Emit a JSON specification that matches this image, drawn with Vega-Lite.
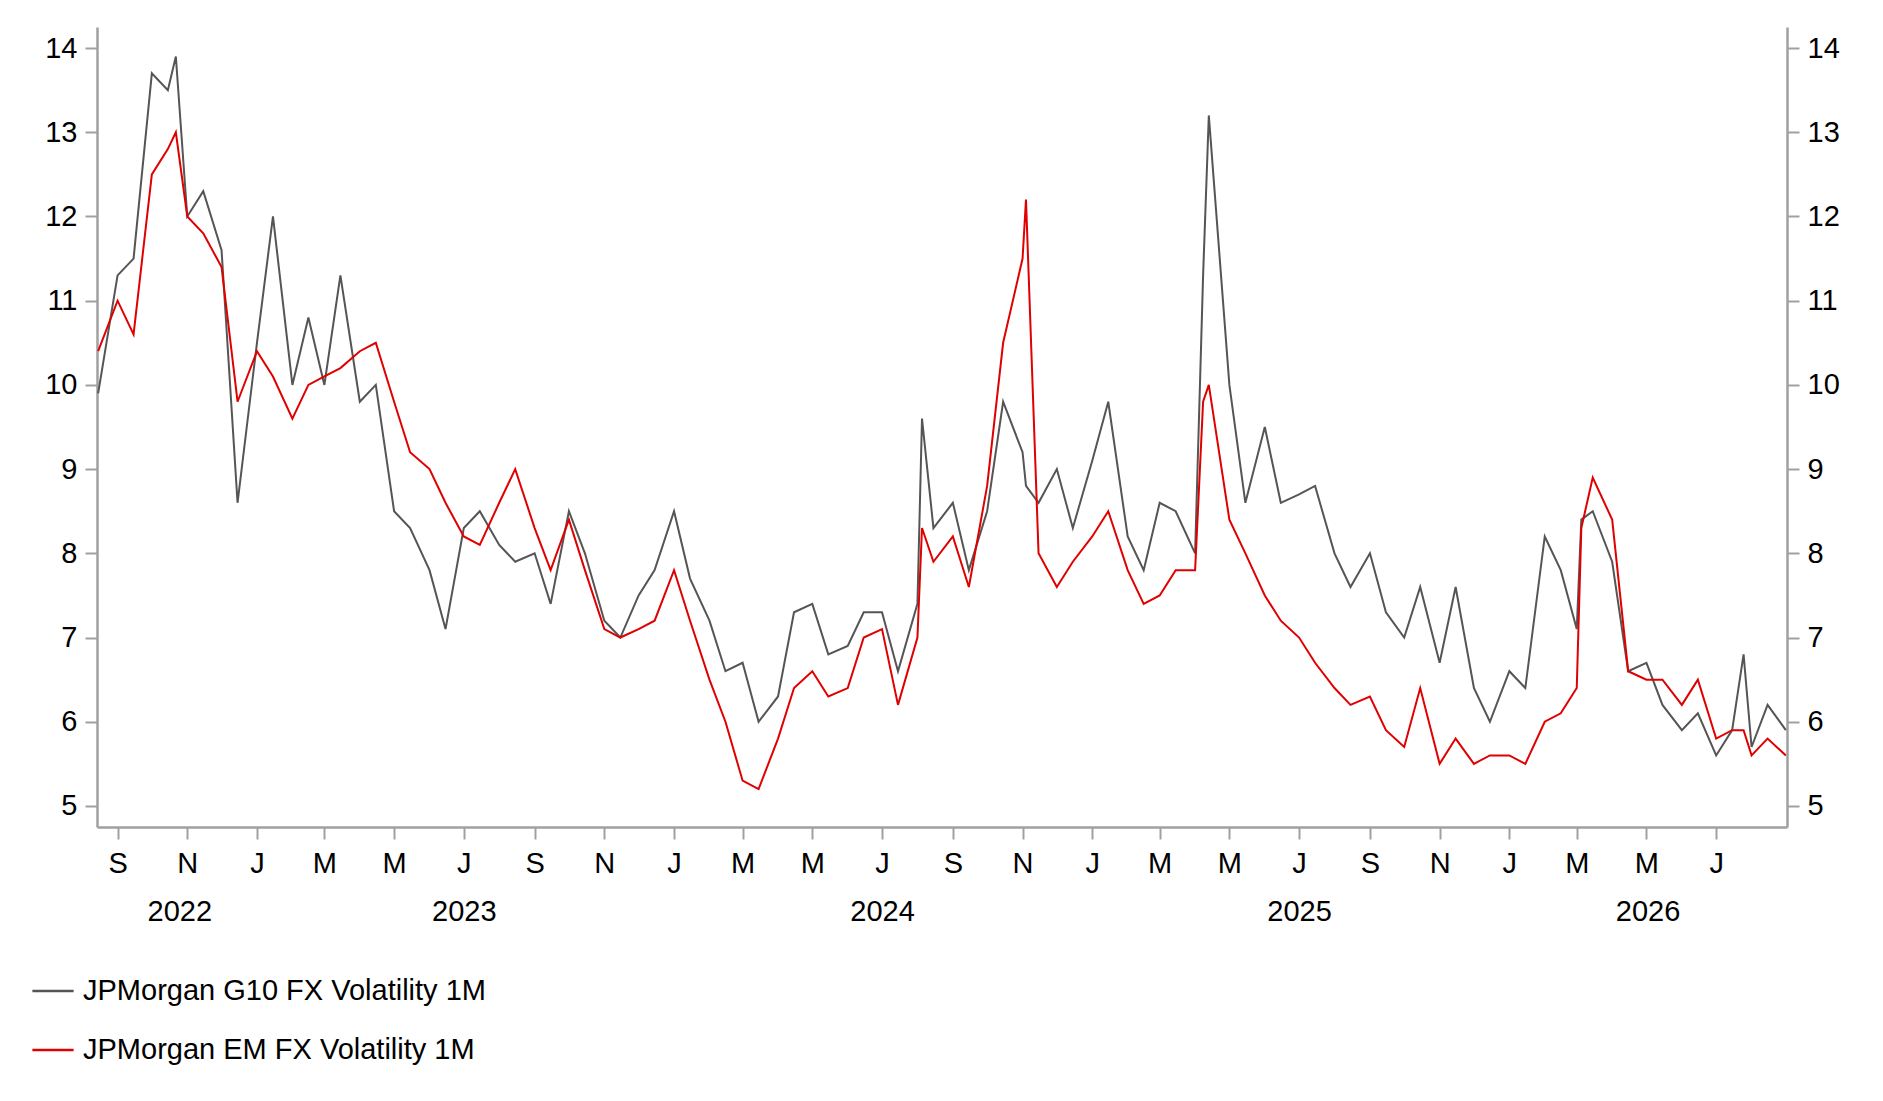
{
  "$schema": "https://vega.github.io/schema/vega-lite/v6.json",
  "width": 1690,
  "height": 800,
  "autosize": "none",
  "padding": {"left": 97, "top": 27, "right": 96, "bottom": 274},
  "background": "white",
  "data": {
    "values": [
      {"date": "2022-08-15", "g": 9.9, "e": 10.4},
      {"date": "2022-09-01", "g": 11.3, "e": 11.0},
      {"date": "2022-09-15", "g": 11.5, "e": 10.6},
      {"date": "2022-10-01", "g": 13.7, "e": 12.5},
      {"date": "2022-10-15", "g": 13.5, "e": 12.8},
      {"date": "2022-10-22", "g": 13.9, "e": 13.0},
      {"date": "2022-11-01", "g": 12.0, "e": 12.0},
      {"date": "2022-11-15", "g": 12.3, "e": 11.8},
      {"date": "2022-12-01", "g": 11.6, "e": 11.4},
      {"date": "2022-12-15", "g": 8.6, "e": 9.8},
      {"date": "2023-01-01", "g": 10.5, "e": 10.4},
      {"date": "2023-01-15", "g": 12.0, "e": 10.1},
      {"date": "2023-02-01", "g": 10.0, "e": 9.6},
      {"date": "2023-02-15", "g": 10.8, "e": 10.0},
      {"date": "2023-03-01", "g": 10.0, "e": 10.1},
      {"date": "2023-03-15", "g": 11.3, "e": 10.2},
      {"date": "2023-04-01", "g": 9.8, "e": 10.4},
      {"date": "2023-04-15", "g": 10.0, "e": 10.5},
      {"date": "2023-05-01", "g": 8.5, "e": 9.8},
      {"date": "2023-05-15", "g": 8.3, "e": 9.2},
      {"date": "2023-06-01", "g": 7.8, "e": 9.0},
      {"date": "2023-06-15", "g": 7.1, "e": 8.6},
      {"date": "2023-07-01", "g": 8.3, "e": 8.2},
      {"date": "2023-07-15", "g": 8.5, "e": 8.1},
      {"date": "2023-08-01", "g": 8.1, "e": 8.6},
      {"date": "2023-08-15", "g": 7.9, "e": 9.0},
      {"date": "2023-09-01", "g": 8.0, "e": 8.3},
      {"date": "2023-09-15", "g": 7.4, "e": 7.8},
      {"date": "2023-10-01", "g": 8.5, "e": 8.4},
      {"date": "2023-10-15", "g": 8.0, "e": 7.8},
      {"date": "2023-11-01", "g": 7.2, "e": 7.1},
      {"date": "2023-11-15", "g": 7.0, "e": 7.0},
      {"date": "2023-12-01", "g": 7.5, "e": 7.1},
      {"date": "2023-12-15", "g": 7.8, "e": 7.2},
      {"date": "2024-01-01", "g": 8.5, "e": 7.8},
      {"date": "2024-01-15", "g": 7.7, "e": 7.2},
      {"date": "2024-02-01", "g": 7.2, "e": 6.5},
      {"date": "2024-02-15", "g": 6.6, "e": 6.0},
      {"date": "2024-03-01", "g": 6.7, "e": 5.3},
      {"date": "2024-03-15", "g": 6.0, "e": 5.2},
      {"date": "2024-04-01", "g": 6.3, "e": 5.8},
      {"date": "2024-04-15", "g": 7.3, "e": 6.4},
      {"date": "2024-05-01", "g": 7.4, "e": 6.6},
      {"date": "2024-05-15", "g": 6.8, "e": 6.3},
      {"date": "2024-06-01", "g": 6.9, "e": 6.4},
      {"date": "2024-06-15", "g": 7.3, "e": 7.0},
      {"date": "2024-07-01", "g": 7.3, "e": 7.1},
      {"date": "2024-07-15", "g": 6.6, "e": 6.2},
      {"date": "2024-08-01", "g": 7.4, "e": 7.0},
      {"date": "2024-08-05", "g": 9.6, "e": 8.3},
      {"date": "2024-08-15", "g": 8.3, "e": 7.9},
      {"date": "2024-09-01", "g": 8.6, "e": 8.2},
      {"date": "2024-09-15", "g": 7.8, "e": 7.6},
      {"date": "2024-10-01", "g": 8.5, "e": 8.8},
      {"date": "2024-10-15", "g": 9.8, "e": 10.5},
      {"date": "2024-11-01", "g": 9.2, "e": 11.5},
      {"date": "2024-11-04", "g": 8.8, "e": 12.2},
      {"date": "2024-11-15", "g": 8.6, "e": 8.0},
      {"date": "2024-12-01", "g": 9.0, "e": 7.6},
      {"date": "2024-12-15", "g": 8.3, "e": 7.9},
      {"date": "2025-01-01", "g": 9.1, "e": 8.2},
      {"date": "2025-01-15", "g": 9.8, "e": 8.5},
      {"date": "2025-02-01", "g": 8.2, "e": 7.8},
      {"date": "2025-02-15", "g": 7.8, "e": 7.4},
      {"date": "2025-03-01", "g": 8.6, "e": 7.5},
      {"date": "2025-03-15", "g": 8.5, "e": 7.8},
      {"date": "2025-04-01", "g": 8.0, "e": 7.8},
      {"date": "2025-04-08", "g": 11.3, "e": 9.8},
      {"date": "2025-04-13", "g": 13.2, "e": 10.0},
      {"date": "2025-05-01", "g": 10.0, "e": 8.4},
      {"date": "2025-05-15", "g": 8.6, "e": 8.0},
      {"date": "2025-06-01", "g": 9.5, "e": 7.5},
      {"date": "2025-06-15", "g": 8.6, "e": 7.2},
      {"date": "2025-07-01", "g": 8.7, "e": 7.0},
      {"date": "2025-07-15", "g": 8.8, "e": 6.7},
      {"date": "2025-08-01", "g": 8.0, "e": 6.4},
      {"date": "2025-08-15", "g": 7.6, "e": 6.2},
      {"date": "2025-09-01", "g": 8.0, "e": 6.3},
      {"date": "2025-09-15", "g": 7.3, "e": 5.9},
      {"date": "2025-10-01", "g": 7.0, "e": 5.7},
      {"date": "2025-10-15", "g": 7.6, "e": 6.4},
      {"date": "2025-11-01", "g": 6.7, "e": 5.5},
      {"date": "2025-11-15", "g": 7.6, "e": 5.8},
      {"date": "2025-12-01", "g": 6.4, "e": 5.5},
      {"date": "2025-12-15", "g": 6.0, "e": 5.6},
      {"date": "2026-01-01", "g": 6.6, "e": 5.6},
      {"date": "2026-01-15", "g": 6.4, "e": 5.5},
      {"date": "2026-02-01", "g": 8.2, "e": 6.0},
      {"date": "2026-02-15", "g": 7.8, "e": 6.1},
      {"date": "2026-03-01", "g": 7.1, "e": 6.4},
      {"date": "2026-03-05", "g": 8.4, "e": 8.3},
      {"date": "2026-03-15", "g": 8.5, "e": 8.9},
      {"date": "2026-04-01", "g": 7.9, "e": 8.4},
      {"date": "2026-04-15", "g": 6.6, "e": 6.6},
      {"date": "2026-05-01", "g": 6.7, "e": 6.5},
      {"date": "2026-05-15", "g": 6.2, "e": 6.5},
      {"date": "2026-06-01", "g": 5.9, "e": 6.2},
      {"date": "2026-06-15", "g": 6.1, "e": 6.5},
      {"date": "2026-07-01", "g": 5.6, "e": 5.8},
      {"date": "2026-07-15", "g": 5.9, "e": 5.9},
      {"date": "2026-07-25", "g": 6.8, "e": 5.9},
      {"date": "2026-08-01", "g": 5.7, "e": 5.6},
      {"date": "2026-08-15", "g": 6.2, "e": 5.8},
      {"date": "2026-08-31", "g": 5.9, "e": 5.6}
    ]
  },
  "transform": [
    {"fold": ["g", "e"], "as": ["key", "value"]},
    {"calculate": "datum.key == 'g' ? 'JPMorgan G10 FX Volatility 1M' : 'JPMorgan EM FX Volatility 1M'", "as": "series"}
  ],
  "layer": [
    {
      "mark": {"type": "line", "strokeWidth": 2},
      "encoding": {
        "x": {
          "field": "date", "type": "temporal", "title": null,
          "scale": {"domain": [{"year": 2022, "month": 8, "date": 14}, {"year": 2026, "month": 9, "date": 1}]},
          "axis": {
            "values": [
              {"year": 2022, "month": 9, "date": 1}, {"year": 2022, "month": 11, "date": 1},
              {"year": 2023, "month": 1, "date": 1}, {"year": 2023, "month": 3, "date": 1},
              {"year": 2023, "month": 5, "date": 1}, {"year": 2023, "month": 7, "date": 1},
              {"year": 2023, "month": 9, "date": 1}, {"year": 2023, "month": 11, "date": 1},
              {"year": 2024, "month": 1, "date": 1}, {"year": 2024, "month": 3, "date": 1},
              {"year": 2024, "month": 5, "date": 1}, {"year": 2024, "month": 7, "date": 1},
              {"year": 2024, "month": 9, "date": 1}, {"year": 2024, "month": 11, "date": 1},
              {"year": 2025, "month": 1, "date": 1}, {"year": 2025, "month": 3, "date": 1},
              {"year": 2025, "month": 5, "date": 1}, {"year": 2025, "month": 7, "date": 1},
              {"year": 2025, "month": 9, "date": 1}, {"year": 2025, "month": 11, "date": 1},
              {"year": 2026, "month": 1, "date": 1}, {"year": 2026, "month": 3, "date": 1},
              {"year": 2026, "month": 5, "date": 1}, {"year": 2026, "month": 7, "date": 1}
            ],
            "labelExpr": "substring(timeFormat(datum.value, '%b'), 0, 1)",
            "grid": false, "tickSize": 12, "labelPadding": 10
          }
        },
        "y": {
          "field": "value", "type": "quantitative", "title": null,
          "scale": {"domain": [4.75, 14.25], "nice": false, "zero": false},
          "axis": {"values": [5, 6, 7, 8, 9, 10, 11, 12, 13, 14], "grid": false, "tickSize": 12, "labelPadding": 8}
        },
        "color": {
          "field": "series", "type": "nominal", "title": null,
          "scale": {"domain": ["JPMorgan G10 FX Volatility 1M", "JPMorgan EM FX Volatility 1M"], "range": ["#555555", "#e00000"]},
          "legend": {
            "orient": "none", "legendX": -66, "legendY": 942, "direction": "vertical",
            "symbolType": "stroke", "symbolSize": 1700, "symbolStrokeWidth": 2.5,
            "labelFontSize": 29, "labelFont": "Liberation Sans", "labelColor": "#000000",
            "labelLimit": 0, "rowPadding": 22, "labelOffset": 8
          }
        }
      }
    },
    {
      "mark": {"type": "line", "opacity": 0},
      "encoding": {
        "x": {
          "field": "date", "type": "temporal", "title": null,
          "axis": {
            "orient": "bottom",
            "values": [
              {"year": 2022, "month": 10, "date": 25}, {"year": 2023, "month": 7, "date": 1},
              {"year": 2024, "month": 7, "date": 1}, {"year": 2025, "month": 7, "date": 1},
              {"year": 2026, "month": 5, "date": 2}
            ],
            "labelExpr": "timeFormat(datum.value, '%Y')",
            "ticks": false, "domain": false, "grid": false, "labelPadding": 70
          }
        },
        "y": {
          "field": "value", "type": "quantitative",
          "axis": {"orient": "right", "values": [5, 6, 7, 8, 9, 10, 11, 12, 13, 14], "grid": false, "tickSize": 12, "labelPadding": 8, "title": null}
        }
      }
    }
  ],
  "resolve": {"axis": {"x": "independent", "y": "independent"}},
  "config": {
    "view": {"stroke": null},
    "font": "Liberation Sans",
    "axis": {
      "labelFont": "Liberation Sans", "labelFontSize": 29, "labelColor": "#000000",
      "domainColor": "#a0a0a0", "domainWidth": 2.5, "tickColor": "#a0a0a0", "tickWidth": 2
    }
  }
}
